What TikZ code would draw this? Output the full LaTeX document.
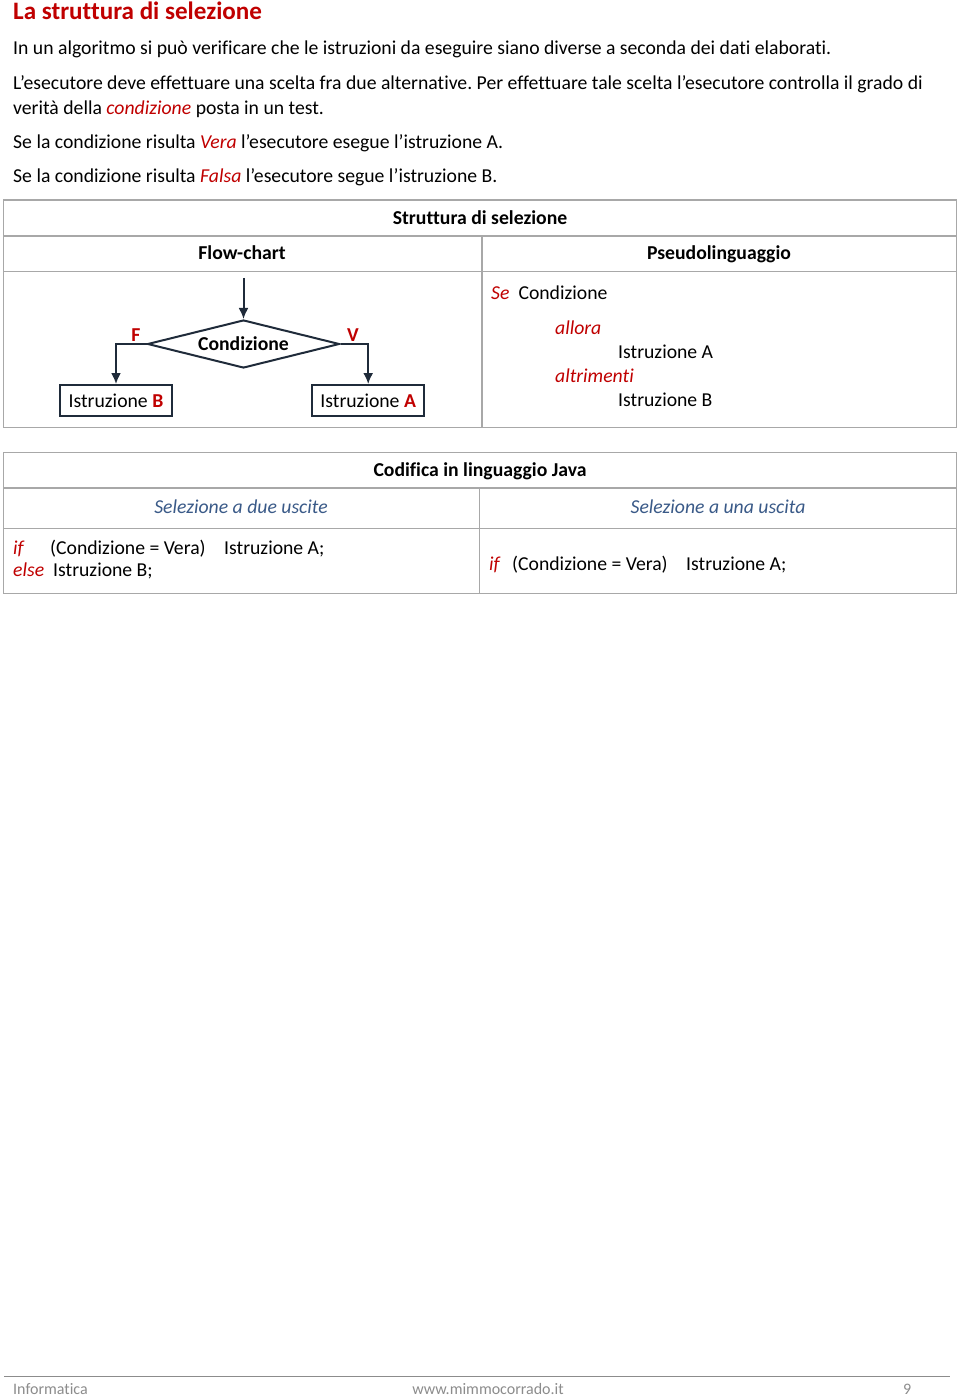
\documentclass[tikz,border=0pt]{standalone}
\usepackage{fontspec}
\setmainfont{Carlito}[Ligatures=NoCommon]
\usetikzlibrary{arrows.meta,shapes.geometric}
\definecolor{dred}{HTML}{C00000}
\definecolor{dblue}{HTML}{3A5A88}
\definecolor{tgray}{HTML}{A8A8A8}
\definecolor{fline}{HTML}{1F2B3A}
\definecolor{foot}{HTML}{8C8C8C}
\frenchspacing
\tikzset{
  txt/.style={inner sep=0pt, anchor=base west, font=\fontsize{19.7}{23}\selectfont},
  ctxt/.style={txt, anchor=base},
  hdr/.style={ctxt, font=\fontsize{19.7}{23}\selectfont\bfseries},
  tline/.style={draw=tgray, line width=1.5pt},
  fl/.style={draw=fline, line width=2pt},
  arr/.style={fl, -{Latex[length=11pt,width=10pt]}},
  stepbox/.style={fl, minimum width=112pt, minimum height=30.7pt, inner sep=0pt, font=\fontsize{19.7}{23}\selectfont},
  foott/.style={inner sep=0pt, anchor=base west, text=foot, font=\fontsize{16}{19}\selectfont},
}
\begin{document}
\begin{tikzpicture}[x=1pt,y=-1pt]
\useasboundingbox (0,0) rectangle (960,1396);
\fill[white] (0,0) rectangle (960,1396);
% title and paragraphs
\node[txt, font=\fontsize{25.1}{29}\selectfont\bfseries, text=dred] (title) at (13,20) {La struttura di selezione};
\node[txt] (p1) at (13,55) {In un algoritmo si può verificare che le istruzioni da eseguire siano diverse a seconda dei dati elaborati.};
\node[txt] (p2) at (13,90) {L’esecutore deve effettuare una scelta fra due alternative. Per effettuare tale scelta l’esecutore controlla il grado di};
\node[txt] (p3) at (13,114.5) {verità della \textcolor{dred}{\textit{condizione}} posta in un test.};
\node[txt] (p4) at (13,148.5) {Se la condizione risulta \textcolor{dred}{\textit{Vera}} l’esecutore esegue l’istruzione A.};
\node[txt] (p5) at (13,183) {Se la condizione risulta \textcolor{dred}{\textit{Falsa}} l’esecutore segue l’istruzione B.};
% table 1
\draw[tline] (3.5,200) rectangle (956.5,427.5);
\draw[tline] (3.5,236) -- (956.5,236);
\draw[tline] (3.5,271.5) -- (956.5,271.5);
\draw[tline] (482,236) -- (482,427.5);
\node[hdr] (h1) at (480,224.3) {Struttura di selezione};
\node[hdr] (h2) at (242,260) {Flow-chart};
\node[hdr] (h3) at (719,260) {Pseudolinguaggio};
% flowchart
\node[diamond, fl, minimum width=192pt, minimum height=48pt, inner sep=0pt, aspect=4, font=\fontsize{19.7}{23}\selectfont\bfseries] (cond) at (243.5,344) {Condizione};
\coordinate (start) at (243.5,278);
\node[stepbox] (bB) at (116,400.4) {Istruzione \textcolor{dred}{\textbf{B}}};
\node[stepbox] (bA) at (368.2,400.4) {Istruzione \textcolor{dred}{\textbf{A}}};
\draw[arr] (start) -- (cond.north);
\draw[arr] (cond.west) -| (bB.north);
\draw[arr] (cond.east) -| (bA.north);
\node[ctxt, font=\fontsize{19.7}{23}\selectfont\bfseries, text=dred] (lf) at (136,341.5) {F};
\node[ctxt, font=\fontsize{19.7}{23}\selectfont\bfseries, text=dred] (lv) at (353,341.5) {V};
% pseudocode
\node[txt, text=dred, font=\fontsize{19.7}{23}\selectfont\itshape] (se) at (491,300) {Se};
\node[txt] (sec) at (518.3,300) {Condizione};
\node[txt, text=dred, font=\fontsize{19.7}{23}\selectfont\itshape] (al) at (555,334.3) {allora};
\node[txt] (ia) at (618,358.3) {Istruzione A};
\node[txt, text=dred, font=\fontsize{19.7}{23}\selectfont\itshape] (alt) at (555,382.3) {altrimenti};
\node[txt] (ib) at (618,406.7) {Istruzione B};
% table 2
\draw[tline] (3.5,452.5) rectangle (956.5,593.5);
\draw[tline] (3.5,488) -- (956.5,488);
\draw[tline] (3.5,528.5) -- (956.5,528.5);
\draw[tline] (479.3,488) -- (479.3,593.5);
\node[hdr] (h4) at (480,476.7) {Codifica in linguaggio Java};
\node[ctxt, text=dblue, font=\fontsize{19.7}{23}\selectfont\itshape] (h5) at (241,513.3) {Selezione a due uscite};
\node[ctxt, text=dblue, font=\fontsize{19.7}{23}\selectfont\itshape] (h6) at (718,513.3) {Selezione a una uscita};
\node[txt, text=dred, font=\fontsize{19.7}{23}\selectfont\itshape] (if1) at (13,554.3) {if};
\node[txt] (c1) at (50,554.3) {(Condizione = Vera)};
\node[txt] (a1) at (224,554.3) {Istruzione A;};
\node[txt, text=dred, font=\fontsize{19.7}{23}\selectfont\itshape] (el) at (13,576.7) {else};
\node[txt] (b1) at (53,576.7) {Istruzione B;};
\node[txt, text=dred, font=\fontsize{19.7}{23}\selectfont\itshape] (if2) at (489,570) {if};
\node[txt] (c2) at (512,570) {(Condizione = Vera)};
\node[txt] (a2) at (686,570) {Istruzione A;};
% footer
\draw[draw=foot, line width=1pt] (4,1376.5) -- (950,1376.5);
\node[foott] (f1) at (13,1394) {Informatica};
\node[foott, anchor=base] (f2) at (488,1394) {www.mimmocorrado.it};
\node[foott] (f3) at (903,1394) {9};
\end{tikzpicture}
\end{document}
